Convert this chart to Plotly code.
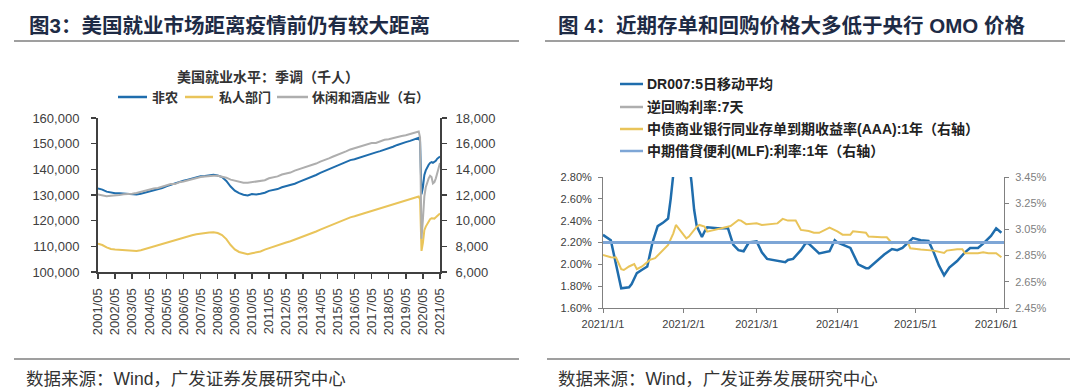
import plotly.graph_objects as go
import pandas as pd

# ---------------- Left panel data: US employment, SA (thousands) ----------------
emp_dates = list(pd.date_range("2001-05-01", "2020-02-01", freq="3MS")) + \
            list(pd.date_range("2020-03-01", "2021-05-01", freq="MS"))

nonfarm = [
    132500, 132100, 131300,
    130900, 130700, 130700, 130600,
    130300, 130200, 130200, 130500,
    130900, 131500, 131800, 132300,
    132700, 133400, 134000, 134500,
    135100, 135600, 136000, 136400,
    136900, 137300, 137400, 137800,
    137900, 137600, 137000, 135500,
    133300, 131700, 130700, 130100,
    129800, 130400, 130200, 130500,
    130900, 131600, 131900, 132300,
    133000, 133400, 133800, 134400,
    135100, 135700, 136300, 136900,
    137800, 138600, 139300, 140300,
    140900, 141500, 142100, 142900,
    143600, 143900, 144500, 145100,
    145700, 146200, 146600, 147100,
    147600, 148200, 148800, 149500,
    150200, 150600, 151100, 151700,
    152300,
    150900, 130300, 133000, 137800, 139600, 141100, 141800, 142500,
    142800, 142500, 142800, 143300, 144100, 144400, 145000,
]

private = [
    111000, 110500, 109600,
    109000, 108800, 108700, 108600,
    108300, 108200, 108200, 108500,
    109000, 109600, 110000, 110500,
    110900, 111500, 112100, 112500,
    113100, 113500, 113900, 114300,
    114700, 115000, 115100, 115400,
    115500, 115200, 114400, 112800,
    110500, 108800, 107800, 107200,
    106900, 107300, 107700, 108000,
    108700, 109300, 109800, 110300,
    111100, 111500, 112000, 112600,
    113300, 113900, 114500, 115100,
    115800, 116500, 117200, 118000,
    118700, 119300, 119900, 120600,
    121300, 121700, 122200, 122800,
    123400, 123900, 124300, 124800,
    125400, 125900, 126400, 126900,
    127400, 127800, 128300, 128800,
    129400,
    128300, 108200, 111400, 116300, 117700, 118800, 119700, 120600,
    120900, 120700, 120800, 121300, 122000, 122300, 122800,
]

leisure = [
    12050, 12000, 11900,
    11950, 11950, 12000, 12050,
    12050, 12100, 12150, 12250,
    12350, 12450, 12500, 12550,
    12650, 12750, 12850, 12850,
    13000, 13050, 13150, 13250,
    13350, 13400, 13450, 13500,
    13500, 13500, 13450, 13350,
    13200, 13100, 13050, 12950,
    12950, 13000, 13050, 13100,
    13150, 13300, 13350, 13450,
    13600, 13650, 13750, 13900,
    14000, 14150, 14250, 14350,
    14450, 14600, 14700, 14850,
    15000, 15150, 15250, 15400,
    15550, 15650, 15750, 15850,
    15950, 16050, 16050, 16200,
    16300, 16350, 16450, 16550,
    16600, 16650, 16750, 16850,
    16950,
    16500, 8600, 10100, 11900, 12600, 13000, 13300, 13500,
    13400, 12900, 13000, 13300, 13700, 14100, 14500,
]

emp_series_names = ["非农", "私人部门", "休闲和酒店业（右）"]
emp_tick_years = list(range(2001, 2022))
emp_tickvals = [f"{y}-05-01" for y in emp_tick_years]
emp_ticktext = [f"{y}/05" for y in emp_tick_years]
left_y_ticks = [100000, 110000, 120000, 130000, 140000, 150000, 160000]
right_y_ticks = [6000, 8000, 10000, 12000, 14000, 16000, 18000]

# ---------------- Right panel data: money market rates (%) ----------------
dr007_dates = [
    "2021-01-01", "2021-01-04", "2021-01-08", "2021-01-11", "2021-01-12", "2021-01-14",
    "2021-01-16", "2021-01-18", "2021-01-20", "2021-01-22", "2021-01-24", "2021-01-26",
    "2021-01-27", "2021-01-29", "2021-02-01", "2021-02-03", "2021-02-04", "2021-02-05",
    "2021-02-06", "2021-02-08", "2021-02-09", "2021-02-10", "2021-02-14", "2021-02-18",
    "2021-02-20", "2021-02-22", "2021-02-24", "2021-02-26", "2021-03-01", "2021-03-03",
    "2021-03-05", "2021-03-09", "2021-03-12", "2021-03-13", "2021-03-15", "2021-03-18",
    "2021-03-20", "2021-03-21", "2021-03-23", "2021-03-25", "2021-03-29", "2021-03-31",
    "2021-04-01", "2021-04-06", "2021-04-09", "2021-04-12", "2021-04-13", "2021-04-16",
    "2021-04-19", "2021-04-22", "2021-04-24", "2021-04-26", "2021-04-30", "2021-05-03",
    "2021-05-06", "2021-05-08", "2021-05-10", "2021-05-12", "2021-05-14", "2021-05-17",
    "2021-05-20", "2021-05-22", "2021-05-25", "2021-05-27", "2021-05-30", "2021-06-01",
    "2021-06-03",
]
dr007 = [
    2.27, 2.22, 1.78, 1.79, 1.82, 1.92,
    1.95, 1.98, 2.20, 2.35, 2.38, 2.42,
    2.60, 3.05, 3.20, 2.95, 2.75, 2.50,
    2.35, 2.25, 2.30, 2.34, 2.33, 2.33,
    2.18, 2.13, 2.12, 2.20, 2.21, 2.11,
    2.05, 2.03, 2.02, 2.04, 2.05, 2.13,
    2.20, 2.19, 2.14, 2.10, 2.12, 2.22,
    2.20, 2.15, 2.00, 1.965, 1.965, 2.03,
    2.09, 2.14, 2.13, 2.15, 2.24, 2.22,
    2.215, 2.11, 1.99, 1.90, 1.97, 2.03,
    2.11, 2.15, 2.15, 2.19, 2.26, 2.33,
    2.29,
]

ncd_dates = [
    "2021-01-01", "2021-01-04", "2021-01-06", "2021-01-08", "2021-01-09", "2021-01-11",
    "2021-01-13", "2021-01-14", "2021-01-16", "2021-01-19", "2021-01-21", "2021-01-23",
    "2021-01-26", "2021-01-28", "2021-01-29", "2021-01-31", "2021-02-02", "2021-02-03",
    "2021-02-06", "2021-02-07", "2021-02-09", "2021-02-10", "2021-02-14", "2021-02-17",
    "2021-02-19", "2021-02-22", "2021-02-23", "2021-02-25", "2021-03-01", "2021-03-03",
    "2021-03-06", "2021-03-09", "2021-03-11", "2021-03-13", "2021-03-16", "2021-03-18",
    "2021-03-21", "2021-03-23", "2021-03-25", "2021-03-29", "2021-04-01", "2021-04-03",
    "2021-04-06", "2021-04-07", "2021-04-12", "2021-04-13", "2021-04-18", "2021-04-20",
    "2021-04-22", "2021-04-25", "2021-04-28", "2021-04-29", "2021-05-03", "2021-05-08",
    "2021-05-12", "2021-05-13", "2021-05-17", "2021-05-19", "2021-05-20", "2021-05-25",
    "2021-05-27", "2021-05-29", "2021-06-01", "2021-06-02", "2021-06-03",
]
ncd = [
    2.855, 2.837, 2.835, 2.746, 2.740, 2.767,
    2.785, 2.746, 2.767, 2.817, 2.830, 2.869,
    2.932, 3.020, 3.084, 3.033, 2.982, 2.995,
    3.071, 3.084, 3.071, 3.033, 3.050, 3.066,
    3.076, 3.122, 3.117, 3.090, 3.096, 3.084,
    3.090, 3.096, 3.130, 3.117, 3.117, 3.046,
    3.037, 3.024, 3.024, 3.063, 3.035, 3.010,
    3.010, 3.035, 3.024, 2.996, 2.990, 2.990,
    2.945, 2.953, 2.953, 2.906, 2.896, 2.888,
    2.870, 2.888, 2.898, 2.898, 2.868, 2.868,
    2.875, 2.868, 2.868, 2.850, 2.837,
]

policy_dates = ["2021-01-01", "2021-06-04"]
reverse_repo_7d = [2.20, 2.20]
mlf_1y = [2.95, 2.95]

rate_series_names = ["DR007:5日移动平均", "逆回购利率:7天",
                     "中债商业银行同业存单到期收益率(AAA):1年（右轴）",
                     "中期借貸便利(MLF):利率:1年（右轴）"]
rate_tickvals = ["2021-01-01", "2021-02-01", "2021-03-01", "2021-04-01", "2021-05-01", "2021-06-01"]
rate_ticktext = ["2021/1/1", "2021/2/1", "2021/3/1", "2021/4/1", "2021/5/1", "2021/6/1"]
rate_left_ticks = [1.60, 1.80, 2.00, 2.20, 2.40, 2.60, 2.80]
rate_right_ticks = [2.45, 2.65, 2.85, 3.05, 3.25, 3.45]

# ---------------- Styles ----------------
W, H = 1080, 392
LAT = "Liberation Sans, Arial, Noto Sans CJK SC, sans-serif"
CJK = "Liberation Sans, Noto Sans CJK SC, sans-serif"
BLUE = "#1F6DAD"
YELLOW = "#E9C45A"
GRAY = "#AEAEAE"
LIGHTBLUE = "#7EA6D6"
DARK = "#404040"
TITLE = "#1E2B45"
emp_colors = [BLUE, YELLOW, GRAY]
rate_colors = [BLUE, GRAY, YELLOW, LIGHTBLUE]


def px(x):
    return x / W


def py(y):
    return 1 - y / H


fig = go.Figure()

# left panel
fig.add_trace(go.Scatter(x=emp_dates, y=nonfarm, name=emp_series_names[0], mode="lines",
                         line=dict(color=emp_colors[0], width=2), xaxis="x", yaxis="y"))
fig.add_trace(go.Scatter(x=emp_dates, y=private, name=emp_series_names[1], mode="lines",
                         line=dict(color=emp_colors[1], width=2), xaxis="x", yaxis="y"))
fig.add_trace(go.Scatter(x=emp_dates, y=leisure, name=emp_series_names[2], mode="lines",
                         line=dict(color=emp_colors[2], width=2), xaxis="x", yaxis="y2"))

# right panel
fig.add_trace(go.Scatter(x=dr007_dates, y=dr007, name=rate_series_names[0], mode="lines",
                         line=dict(color=rate_colors[0], width=2.5), xaxis="x2", yaxis="y3"))
fig.add_trace(go.Scatter(x=policy_dates, y=reverse_repo_7d, name=rate_series_names[1], mode="lines",
                         line=dict(color=rate_colors[1], width=2), xaxis="x2", yaxis="y3"))
fig.add_trace(go.Scatter(x=ncd_dates, y=ncd, name=rate_series_names[2], mode="lines",
                         line=dict(color=rate_colors[2], width=2), xaxis="x2", yaxis="y4"))
fig.add_trace(go.Scatter(x=policy_dates, y=mlf_1y, name=rate_series_names[3], mode="lines",
                         line=dict(color=rate_colors[3], width=3), xaxis="x2", yaxis="y4"))

axis_common = dict(showgrid=False, zeroline=False, showline=True, ticks="outside")

fig.update_layout(
    width=W, height=H, autosize=False,
    margin=dict(l=0, r=0, t=0, b=0, pad=0, autoexpand=False),
    paper_bgcolor="white", plot_bgcolor="white",
    font=dict(family=LAT, color=DARK),
    showlegend=False,
    hovermode=False,
    xaxis=dict(**axis_common, domain=[px(98), px(440)], anchor="y", type="date",
               range=["2001-05-01", "2021-05-01"], tickvals=emp_tickvals, ticktext=emp_ticktext,
               tickangle=-90, ticklen=5, tickwidth=1.5, tickcolor=DARK,
               linecolor=DARK, linewidth=2, tickfont=dict(size=13, color=DARK, family=LAT),
               ticklabelstandoff=4),
    yaxis=dict(**axis_common, domain=[py(272), py(118)], anchor="x", range=[100000, 160000],
               tickvals=left_y_ticks, ticktext=[f"{v:,}" for v in left_y_ticks],
               ticklen=5, tickwidth=1.5, tickcolor=DARK,
               linecolor=DARK, linewidth=2, tickfont=dict(size=13, color=DARK, family=LAT),
               ticklabelstandoff=9),
    yaxis2=dict(**axis_common, overlaying="y", side="right", anchor="x", range=[6000, 18000],
                tickvals=right_y_ticks, ticktext=[f"{v:,}" for v in right_y_ticks],
                ticklen=5, tickwidth=1.5, tickcolor=DARK,
                linecolor=DARK, linewidth=2, tickfont=dict(size=13, color=DARK, family=LAT),
                ticklabelstandoff=6),
    xaxis2=dict(**axis_common, domain=[px(603), px(1004)], anchor="y3", type="date",
                range=["2021-01-01", "2021-06-04"], tickvals=rate_tickvals, ticktext=rate_ticktext,
                tickangle=0, ticklen=4, tickwidth=1, tickcolor="#808080",
                linecolor="#808080", linewidth=1, tickfont=dict(size=11, color="#404040", family=LAT),
                ticklabelstandoff=2),
    yaxis3=dict(**axis_common, domain=[py(308), py(177)], anchor="x2", range=[1.60, 2.80],
                tickvals=rate_left_ticks, ticktext=[f"{v:.2f}%" for v in rate_left_ticks],
                ticklen=4, tickwidth=1, tickcolor="#808080", linecolor="#808080", linewidth=1,
                tickfont=dict(size=11, color="#404040", family=LAT), ticklabelstandoff=4),
    yaxis4=dict(**axis_common, overlaying="y3", side="right", anchor="x2", range=[2.45, 3.45],
                tickvals=rate_right_ticks, ticktext=[f"{v:.2f}%" for v in rate_right_ticks],
                ticklen=4, tickwidth=1, tickcolor="#808080", linecolor="#808080", linewidth=1,
                tickfont=dict(size=11, color="#808080", family=LAT), ticklabelstandoff=4),
)

shapes = []
annotations = []

# legend keys (left panel: one row; right panel: one column)
emp_legend_pos = [(118, 147, 150), (185, 213, 217), (277, 308, 310)]
for name, col, (x0, x1, xt) in zip(emp_series_names, emp_colors, emp_legend_pos):
    shapes.append(dict(type="line", xref="paper", yref="paper", x0=px(x0), x1=px(x1),
                       y0=py(97), y1=py(97), line=dict(color=col, width=2.5)))
    annotations.append(dict(text=name, x=px(xt), y=py(97), xanchor="left", yanchor="middle",
                            font=dict(size=13, family=CJK, color="#333333", weight="bold")))

rate_legend_y = [84, 107, 129, 151]
for name, col, yy in zip(rate_series_names, rate_colors, rate_legend_y):
    shapes.append(dict(type="line", xref="paper", yref="paper", x0=px(620), x1=px(643),
                       y0=py(yy), y1=py(yy), line=dict(color=col, width=2.5)))
    annotations.append(dict(text=name, x=px(645), y=py(yy), xanchor="left", yanchor="middle",
                            font=dict(size=14, family=CJK, color="#222222", weight="bold")))

# title underlines and footer separators
for x0, x1 in [(14, 519), (545, 1065)]:
    shapes.append(dict(type="line", xref="paper", yref="paper", x0=px(x0), x1=px(x1),
                       y0=py(41), y1=py(41), line=dict(color="#7F7F7F", width=1.5)))
for x0, x1 in [(14, 519), (547, 1070)]:
    shapes.append(dict(type="line", xref="paper", yref="paper", x0=px(x0), x1=px(x1),
                       y0=py(359), y1=py(359), line=dict(color="#7F7F7F", width=1.5)))

annotations += [
    dict(text="图3：美国就业市场距离疫情前仍有较大距离", x=px(27), y=py(25), xanchor="left",
         yanchor="middle", font=dict(size=20.5, family=CJK, color=TITLE, weight="bold")),
    dict(text="图 4：近期存单和回购价格大多低于央行 OMO 价格", x=px(556), y=py(25), xanchor="left",
         yanchor="middle", font=dict(size=20.5, family=CJK, color=TITLE, weight="bold")),
    dict(text="美国就业水平：季调（千人）", x=px(268), y=py(77), xanchor="center",
         yanchor="middle", font=dict(size=14, family=CJK, color="#333333", weight="bold")),
    dict(text="数据来源：Wind，广发证券发展研究中心", x=px(24), y=py(379), xanchor="left",
         yanchor="middle", font=dict(size=17.5, family=CJK, color="#333333")),
    dict(text="数据来源：Wind，广发证券发展研究中心", x=px(556), y=py(379), xanchor="left",
         yanchor="middle", font=dict(size=17.5, family=CJK, color="#333333")),
]
for a in annotations:
    a.update(xref="paper", yref="paper", showarrow=False)

fig.update_layout(shapes=shapes, annotations=annotations)

fig.write_html("out.html",
               config={"displayModeBar": False, "staticPlot": True},
               post_script="document.body.style.margin='0';document.body.style.overflow='hidden';")
